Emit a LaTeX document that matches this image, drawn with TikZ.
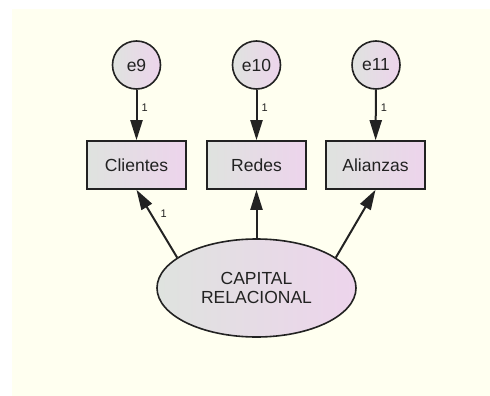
\documentclass[tikz,border=0pt]{standalone}
\usepackage{fontspec}
\setmainfont{Liberation Sans}
\usetikzlibrary{arrows.meta,shapes.geometric}
\definecolor{paper}{HTML}{FFFFF0}
\definecolor{fillL}{HTML}{DFE3DF}
\definecolor{fillR}{HTML}{EDD4EC}
\definecolor{ink}{HTML}{222222}
\tikzset{
  shade base/.style={draw=ink, line width=1.6pt, left color=fillL, right color=fillR,
    font=\fontsize{17.5}{19}\selectfont, text=ink, inner sep=0pt},
  errvar/.style={shade base, circle, minimum size=48pt},
  obsvar/.style={shade base, rectangle, minimum width=99pt, minimum height=48pt},
  latvar/.style={shade base, ellipse, minimum width=199pt, minimum height=98pt, align=center},
  regline/.style={color=ink, line width=2pt, arrows={-Triangle[length=20pt,width=12pt]}},
  weight/.style={font=\fontsize{11}{12}\selectfont, text=ink, inner sep=0pt}
}
\begin{document}
\begin{tikzpicture}[x=1pt,y=-1pt]
  % page and panel
  \useasboundingbox (0,0) rectangle (490,396);
  \fill[white] (0,0) rectangle (490,396);
  \fill[paper] (12,9) rectangle (490,396);
  % error terms
  \node[errvar] (e9)  at (136.5,65) {e9};
  \node[errvar] (e10) at (256.5,65) {e10};
  \node[errvar] (e11) at (376,65) {e11};
  % observed indicators
  \node[obsvar] (cli) at (136.5,165) {Clientes};
  \node[obsvar] (red) at (256.5,165) {Redes};
  \node[obsvar] (ali) at (375.5,165) {Alianzas};
  % latent construct
  \node[latvar] (cap) at (256.5,288) {CAPITAL\\RELACIONAL};
  % error paths
  \draw[regline] (e9)  -- node[weight, pos=0.35, right=4pt] {1} (cli);
  \draw[regline] (e10) -- node[weight, pos=0.35, right=4pt] {1} (red);
  \draw[regline] (e11) -- node[weight, pos=0.35, right=4pt] {1} (ali);
  % loadings
  \draw[regline] (cap.159) -- node[weight, pos=0.65, right=9pt] {1} (cli.south);
  \draw[regline] (cap.north) -- (red.south);
  \draw[regline] (cap.21) -- (ali.south);
\end{tikzpicture}
\end{document}
